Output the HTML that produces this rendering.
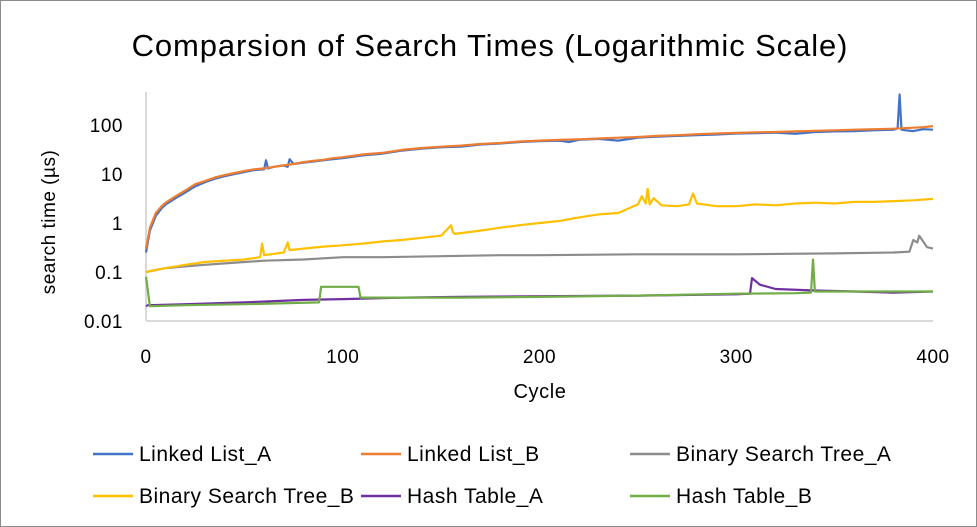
<!DOCTYPE html>
<html><head><meta charset="utf-8"><style>
body{margin:0;background:#fff;}
svg{display:block;font-family:"Liberation Sans",sans-serif;}
</style></head><body>
<svg id="c" width="977" height="527">
<rect x="0.5" y="0.5" width="976" height="526" fill="#fff" stroke="#8c8c8c"/>
<text x="490" y="56" text-anchor="middle" font-size="31" letter-spacing="0.9" fill="#000">Comparsion of Search Times (Logarithmic Scale)</text>
<text transform="translate(55,222) rotate(-90)" text-anchor="middle" font-size="19" letter-spacing="0.5" fill="#000">search time (µs)</text>
<text x="540" y="398" text-anchor="middle" font-size="20" letter-spacing="0.6" fill="#000">Cycle</text>
<g id="axes"></g><g id="series"></g><g id="legend"></g>
</svg>
<script>
const yTicks=[0.01,0.1,1,10,100];
const yTickLabels=["0.01","0.1","1","10","100"];
const xTicks=[0,100,200,300,400];
const seriesNames=["Linked List_A","Linked List_B","Binary Search Tree_A","Binary Search Tree_B","Hash Table_A","Hash Table_B"];
const seriesColors=["#4472c4","#ed7d31","#8c8c8c","#ffc000","#7030a0","#70ad47"];
const llA_x=[0,2,5,8,10,15,20,25,30,35,40,45,50,55,60,61,62,65,70,72,73,75,80,85,90,95,100,110,120,130,140,150,160,170,180,190,200,210,215,220,230,240,250,260,270,280,290,300,310,320,330,340,350,360,370,380,382,383,384,386,390,395,400];
const llA_y=[0.25,0.7,1.4,2.0,2.4,3.2,4.2,5.6,6.8,8.0,9.0,10,11,12,12.5,19,13,14,15,14,20,16,17,18,19,20,21,24,26,30,33,35,36,40,42,45,47,48,45,50,52,48,55,58,60,62,64,67,68,70,66,72,74,75,78,80,85,420,80,78,75,82,80];
const llB_x=[0,2,5,8,10,15,20,25,30,35,40,45,50,55,60,65,70,75,80,85,90,95,100,110,120,130,140,150,160,170,180,190,200,210,220,230,240,250,260,270,280,290,300,310,320,330,340,350,360,370,380,390,395,400];
const llB_y=[0.3,0.8,1.6,2.2,2.6,3.5,4.6,6.2,7.2,8.5,9.5,10.5,11.5,12.5,13,14,15,16,17.5,18.5,19.5,21,22,25,27,31,34,36,38,41,43,46,48,50,51,53,55,57,60,62,65,67,69,71,72,74,76,78,80,82,84,88,90,95];
const bstA_x=[0,5,10,20,30,40,50,60,80,100,120,150,180,200,250,300,350,380,388,390,392,393,395,397,400];
const bstA_y=[0.1,0.11,0.12,0.13,0.14,0.15,0.16,0.17,0.18,0.2,0.2,0.21,0.22,0.22,0.23,0.23,0.24,0.25,0.26,0.45,0.4,0.55,0.42,0.32,0.3];
const bstB_x=[0,5,10,20,30,40,50,58,59,60,70,72,73,80,90,100,110,120,130,140,150,155,156,157,170,180,190,200,210,220,230,240,250,252,254,255,256,258,262,270,276,278,280,290,300,310,320,330,340,350,360,370,380,390,400];
const bstB_y=[0.1,0.11,0.12,0.14,0.16,0.17,0.18,0.2,0.38,0.22,0.25,0.4,0.28,0.3,0.33,0.35,0.38,0.42,0.45,0.5,0.55,0.9,0.65,0.6,0.7,0.8,0.9,1.0,1.1,1.3,1.5,1.6,2.4,3.5,2.5,5.0,2.4,3.2,2.3,2.2,2.4,4.0,2.5,2.2,2.2,2.4,2.3,2.5,2.6,2.5,2.7,2.7,2.8,2.9,3.1];
const htA_x=[0,1,20,50,80,100,130,160,200,250,300,307,308,312,320,340,360,380,400];
const htA_y=[0.02,0.021,0.022,0.024,0.027,0.028,0.03,0.031,0.032,0.033,0.035,0.036,0.075,0.055,0.045,0.042,0.04,0.038,0.04];
const htB_x=[0,2,20,50,88,89,100,108,109,130,160,200,250,300,330,338,339,340,350,380,400];
const htB_y=[0.08,0.02,0.021,0.022,0.024,0.05,0.05,0.05,0.03,0.03,0.03,0.031,0.033,0.036,0.037,0.038,0.18,0.04,0.04,0.04,0.04];
const allX=[llA_x,llB_x,bstA_x,bstB_x,htA_x,htB_x];
const allY=[llA_y,llB_y,bstA_y,bstB_y,htA_y,htB_y];
const NS="http://www.w3.org/2000/svg";
const L=146,R=933,T=125,B=321;
function xs(v){return L+(v-0)/(400-0)*(R-L);}
function ys(v){return B-(Math.log10(v)+2)/4*(B-T);}
function mk(t,a,p){const e=document.createElementNS(NS,t);for(const k in a)e.setAttribute(k,a[k]);p.appendChild(e);return e;}
const axes=document.getElementById('axes');
const ya=mk('line',{x1:L,y1:92,x2:L,y2:B,stroke:'#d9d9d9','stroke-width':2},axes);


const xa=mk('line',{x1:L,y1:B,x2:R,y2:B,stroke:'#d9d9d9','stroke-width':2},axes);


yTicks.forEach((v,i)=>{const t=mk('text',{x:123,y:ys(v)+7,'text-anchor':'end','font-size':19,'letter-spacing':0.5,fill:'#000'},axes);t.textContent=yTickLabels[i];

});
xTicks.forEach(v=>{const t=mk('text',{x:xs(v),y:363,'text-anchor':'middle','font-size':19,'letter-spacing':0.5,fill:'#000'},axes);t.textContent=v;

});
const sg=document.getElementById('series');
allX.forEach((xa2,i)=>{const pts=xa2.map((x,j)=>xs(x).toFixed(1)+','+ys(allY[i][j]).toFixed(1)).join(' ');
const pl=mk('polyline',{points:pts,fill:'none',stroke:seriesColors[i],'stroke-width':2.2,'stroke-linejoin':'round'},sg);

});
const lg=document.getElementById('legend');
const lgX=[93,361,630],lgY=[454,496];
seriesNames.forEach((n,i)=>{const x=lgX[i%3],y=lgY[Math.floor(i/3)];
const g=mk('g',{},lg);


mk('line',{x1:x,y1:y,x2:x+40,y2:y,stroke:seriesColors[i],'stroke-width':2.5},g);
const t=mk('text',{x:x+46,y:y+7,'font-size':21,'letter-spacing':0.5,fill:'#000'},g);t.textContent=n;});
</script>
</body></html>
